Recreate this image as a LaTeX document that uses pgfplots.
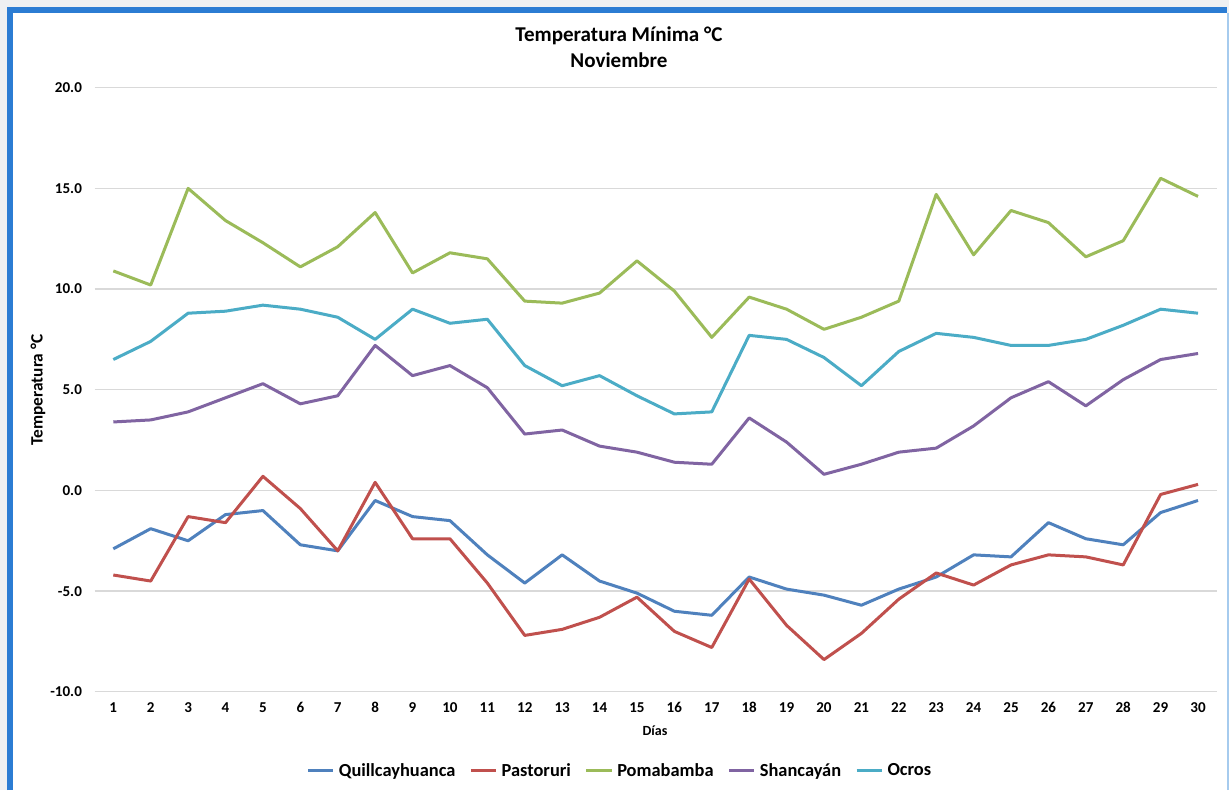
\documentclass[border=0pt]{standalone}
\usepackage{fontspec}
\setmainfont{Carlito}
\usepackage{pgfplots}
\pgfplotsset{compat=1.18}
\definecolor{cQ}{HTML}{4F81BD}
\definecolor{cP}{HTML}{C0504D}
\definecolor{cPo}{HTML}{9BBB59}
\definecolor{cS}{HTML}{8064A2}
\definecolor{cO}{HTML}{4BACC6}
\definecolor{bgray}{HTML}{EEF0F2}
\definecolor{fblue}{HTML}{2B7CD3}
\definecolor{fblue2}{HTML}{A6CBEE}
\definecolor{gridc}{HTML}{D9D9D9}
\begin{document}
\begin{tikzpicture}
\path[use as bounding box, fill=bgray] (0,0) rectangle (921.75pt,592.5pt);
\fill[white] (7.5pt,0) rectangle (920.25pt,585pt);
\draw[fblue, line width=4.5pt] (7.73pt,0) -- (7.73pt,584.78pt) -- (920.25pt,584.78pt);
\draw[fblue2, line width=1.5pt] (921pt,0) -- (921pt,582.5pt);
\begin{axis}[
  at={(70.95pt,73.65pt)}, anchor=south west,
  scale only axis, width=841.6pt, height=453.1pt,
  xmin=0.5, xmax=30.5, ymin=-10, ymax=20,
  xtick={1,...,30}, ytick={-10,-5,...,20},
  axis line style={draw=none},
  major tick length=0pt,
  ymajorgrids, grid style={gridc, line width=1pt},
  tick label style={font=\bfseries\fontsize{11.3}{13}\selectfont},
  /pgf/number format/assume math mode=true,
  yticklabel={\pgfmathprintnumber[fixed,fixed zerofill,precision=1]{\tick}},
  yticklabel style={anchor=east, xshift=-6pt},
  xticklabel style={anchor=center, yshift=-12pt},
  xlabel={Días}, ylabel={Temperatura °C},
  xlabel style={font=\bfseries\fontsize{10.5}{12}\selectfont, at={(axis description cs:0.4994,-0.065)}, anchor=center},
  ylabel style={font=\bfseries\fontsize{13}{15}\selectfont, at={(axis description cs:-0.0504,0.4996)}, anchor=center, rotate=0},
  title={Temperatura Mínima °C\\Noviembre},
  title style={font=\bfseries\fontsize{15.8}{19.5}\selectfont, align=center, at={(axis description cs:0.4673,1.0541)}, anchor=center},
  legend columns=5,
  legend style={draw=none, fill=none, at={(axis description cs:0.469,-0.131)}, anchor=center,
    font=\bfseries\fontsize{13.8}{16}\selectfont,
    /tikz/every even column/.append style={column sep=7.5pt},
    nodes={inner xsep=3pt}},
  legend image code/.code={\draw[#1, line width=2.25pt] (0pt,0pt) -- (19pt,0pt);},
  every axis plot/.append style={line width=2.25pt, line join=round},
]
\addplot[cQ] coordinates {(1,-2.9)(2,-1.9)(3,-2.5)(4,-1.2)(5,-1.0)(6,-2.7)(7,-3.0)(8,-0.5)(9,-1.3)(10,-1.5)(11,-3.2)(12,-4.6)(13,-3.2)(14,-4.5)(15,-5.1)(16,-6.0)(17,-6.2)(18,-4.3)(19,-4.9)(20,-5.2)(21,-5.7)(22,-4.9)(23,-4.3)(24,-3.2)(25,-3.3)(26,-1.6)(27,-2.4)(28,-2.7)(29,-1.1)(30,-0.5)};
\addlegendentry{Quillcayhuanca}
\addplot[cP] coordinates {(1,-4.2)(2,-4.5)(3,-1.3)(4,-1.6)(5,0.7)(6,-0.9)(7,-3.0)(8,0.4)(9,-2.4)(10,-2.4)(11,-4.6)(12,-7.2)(13,-6.9)(14,-6.3)(15,-5.3)(16,-7.0)(17,-7.8)(18,-4.4)(19,-6.7)(20,-8.4)(21,-7.1)(22,-5.4)(23,-4.1)(24,-4.7)(25,-3.7)(26,-3.2)(27,-3.3)(28,-3.7)(29,-0.2)(30,0.3)};
\addlegendentry{Pastoruri}
\addplot[cPo] coordinates {(1,10.9)(2,10.2)(3,15.0)(4,13.4)(5,12.3)(6,11.1)(7,12.1)(8,13.8)(9,10.8)(10,11.8)(11,11.5)(12,9.4)(13,9.3)(14,9.8)(15,11.4)(16,9.9)(17,7.6)(18,9.6)(19,9.0)(20,8.0)(21,8.6)(22,9.4)(23,14.7)(24,11.7)(25,13.9)(26,13.3)(27,11.6)(28,12.4)(29,15.5)(30,14.6)};
\addlegendentry{Pomabamba}
\addplot[cS] coordinates {(1,3.4)(2,3.5)(3,3.9)(4,4.6)(5,5.3)(6,4.3)(7,4.7)(8,7.2)(9,5.7)(10,6.2)(11,5.1)(12,2.8)(13,3.0)(14,2.2)(15,1.9)(16,1.4)(17,1.3)(18,3.6)(19,2.4)(20,0.8)(21,1.3)(22,1.9)(23,2.1)(24,3.2)(25,4.6)(26,5.4)(27,4.2)(28,5.5)(29,6.5)(30,6.8)};
\addlegendentry{Shancayán}
\addplot[cO] coordinates {(1,6.5)(2,7.4)(3,8.8)(4,8.9)(5,9.2)(6,9.0)(7,8.6)(8,7.5)(9,9.0)(10,8.3)(11,8.5)(12,6.2)(13,5.2)(14,5.7)(15,4.7)(16,3.8)(17,3.9)(18,7.7)(19,7.5)(20,6.6)(21,5.2)(22,6.9)(23,7.8)(24,7.6)(25,7.2)(26,7.2)(27,7.5)(28,8.2)(29,9.0)(30,8.8)};
\addlegendentry{Ocros}
\end{axis}
\end{tikzpicture}
\end{document}
